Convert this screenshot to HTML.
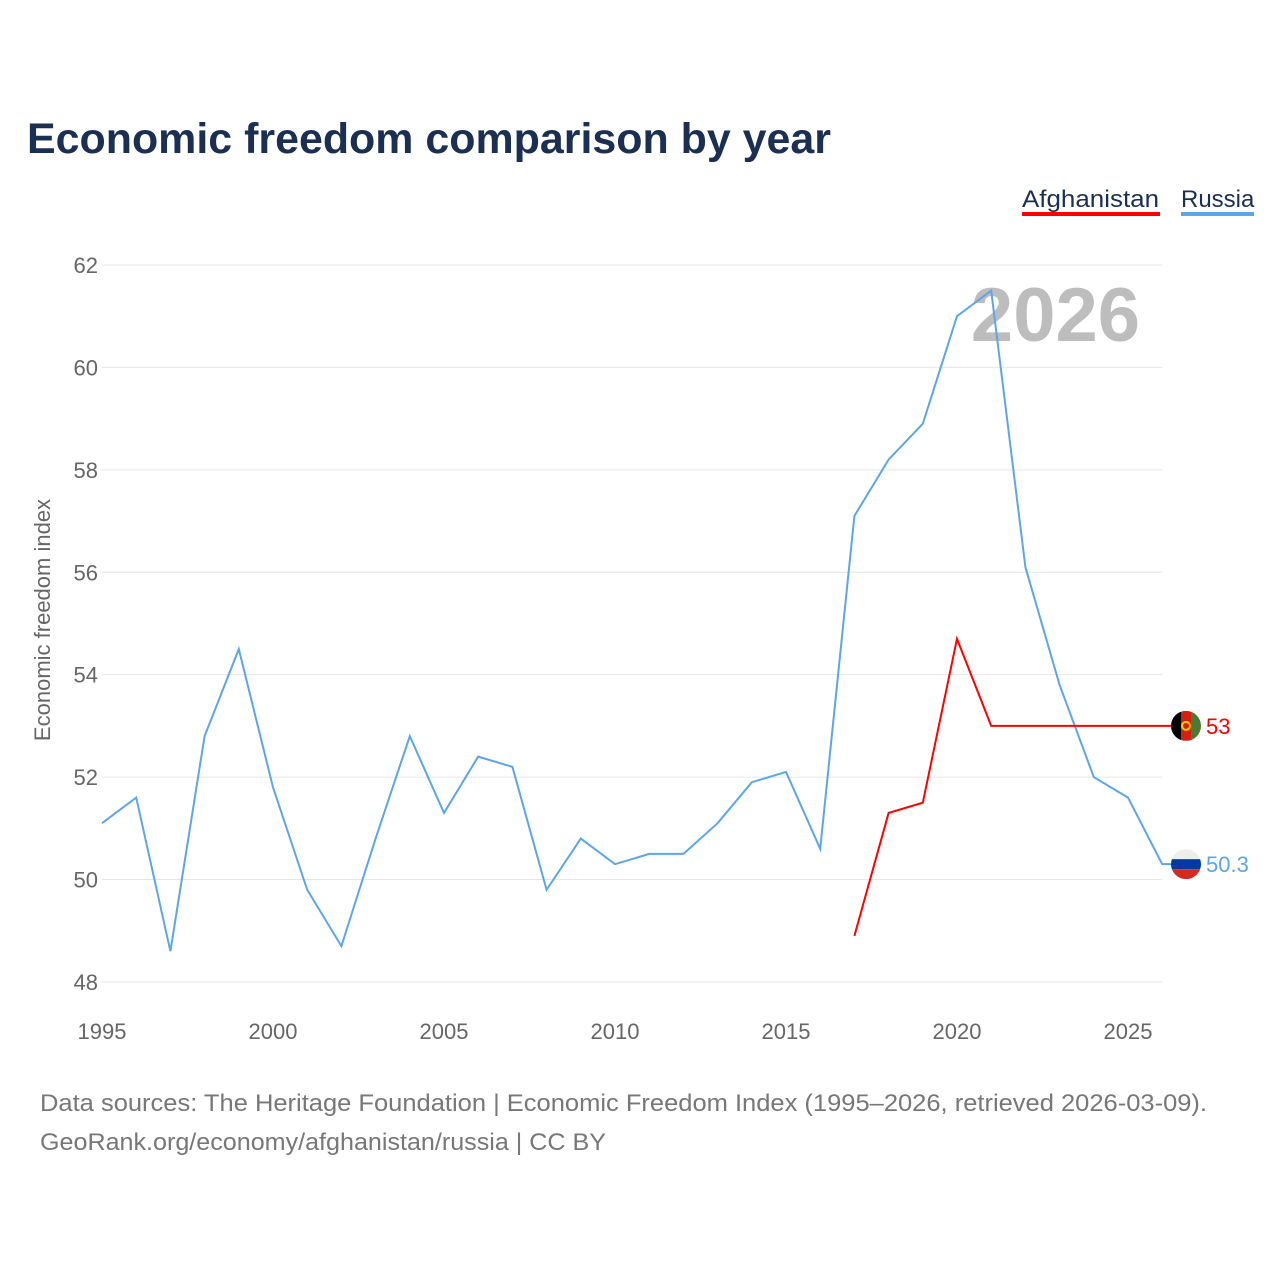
<!DOCTYPE html>
<html><head><meta charset="utf-8">
<style>
body{margin:0;background:#fff;font-family:"Liberation Sans",sans-serif;}
#wrap{position:relative;width:1280px;height:1280px;overflow:hidden;}
svg text{font-family:"Liberation Sans",sans-serif;}
</style></head>
<body>
<div id="wrap">
<svg id="chart" width="1280" height="1280">
<text x="27" y="153" font-size="43" font-weight="bold" fill="#1b2f52" textLength="804" lengthAdjust="spacingAndGlyphs">Economic freedom comparison by year</text>
<g>
<text x="1022" y="207" font-size="24" fill="#1b2f52" textLength="137" lengthAdjust="spacingAndGlyphs">Afghanistan</text>
<rect x="1022" y="212" width="138" height="4" fill="#ff0000"/>
</g>
<g>
<text x="1181" y="207" font-size="24" fill="#1b2f52">Russia</text>
<rect x="1181" y="212" width="73" height="4" fill="#5ea5e8"/>
</g>
<text x="1140" y="341" font-size="76" font-weight="bold" fill="#bdbdbd" text-anchor="end">2026</text>
<text transform="translate(50,620) rotate(-90)" font-size="22" fill="#666" text-anchor="middle">Economic freedom index</text>
<g id="grid"></g><g id="series"></g>
<text x="40" y="1111" font-size="24" fill="#777" textLength="1167" lengthAdjust="spacingAndGlyphs">Data sources: The Heritage Foundation | Economic Freedom Index (1995–2026, retrieved 2026-03-09).</text>
<text x="40" y="1150" font-size="24" fill="#777" textLength="566" lengthAdjust="spacingAndGlyphs">GeoRank.org/economy/afghanistan/russia | CC BY</text>
</svg>
</div>
<script>
const years=[1995,1996,1997,1998,1999,2000,2001,2002,2003,2004,2005,2006,2007,2008,2009,2010,2011,2012,2013,2014,2015,2016,2017,2018,2019,2020,2021,2022,2023,2024,2025,2026];
const russia=[51.1,51.6,48.6,52.8,54.5,51.8,49.8,48.7,50.8,52.8,51.3,52.4,52.2,49.8,50.8,50.3,50.5,50.5,51.1,51.9,52.1,50.6,57.1,58.2,58.9,61.0,61.5,56.1,53.8,52.0,51.6,50.3];
const afgYears=[2017,2018,2019,2020,2021,2022,2023,2024,2025,2026];
const afghanistan=[48.9,51.3,51.5,54.7,53.0,53.0,53.0,53.0,53.0,53.0];
const yTicks=[48,50,52,54,56,58,60,62];
const xTicks=[1995,2000,2005,2010,2015,2020,2025];
const NS='http://www.w3.org/2000/svg';
function x(v){return 102+(v-1995)*34.2;}
function y(v){return 265+(62-v)*51.21;}
function mk(t,a,p){const e=document.createElementNS(NS,t);for(const k in a)e.setAttribute(k,a[k]);p.appendChild(e);return e;}
const grid=document.getElementById('grid');
yTicks.forEach(t=>{
 const l=mk('line',{x1:102,x2:1162,y1:y(t),y2:y(t),stroke:'#e6e6e6','stroke-width':1},grid);
 
 
 const tx=mk('text',{x:98,y:y(t)+8,'font-size':22,fill:'#666','text-anchor':'end'},grid);
 tx.textContent=t;
 
 
});
xTicks.forEach(t=>{
 const tx=mk('text',{x:x(t),y:1039,'font-size':22,fill:'#666','text-anchor':'middle'},grid);
 tx.textContent=t;
 
 
});
const s=document.getElementById('series');
const last=russia[russia.length-1];
let pr=years.map((yr,i)=>x(yr)+','+y(russia[i])).join(' ')+' '+1175+','+y(last);
const rl=mk('polyline',{points:pr,fill:'none',stroke:'#5ea5e8','stroke-width':2},s);


const alast=afghanistan[afghanistan.length-1];
let pa=afgYears.map((yr,i)=>x(yr)+','+y(afghanistan[i])).join(' ')+' '+1175+','+y(alast);
const al=mk('polyline',{points:pa,fill:'none',stroke:'#ff0000','stroke-width':2},s);


const fa=mk('g',{},s);


const cy=y(alast);
mk('clipPath',{id:'ca'},fa);mk('circle',{cx:1186,cy:cy,r:15},fa.lastChild);
mk('rect',{x:1171,y:cy-15,width:10,height:30,fill:'#000','clip-path':'url(#ca)'},fa);
mk('rect',{x:1181,y:cy-15,width:10,height:30,fill:'#d32011','clip-path':'url(#ca)'},fa);
mk('rect',{x:1191,y:cy-15,width:10,height:30,fill:'#4a7a36','clip-path':'url(#ca)'},fa);
mk('circle',{cx:1186,cy:cy,r:4,fill:'none',stroke:'#fc0','stroke-width':2},fa);
const lt=mk('text',{x:1206,y:cy+8,'font-size':22,fill:'#ff0000'},s);
lt.textContent=alast;


const fr=mk('g',{},s);


const ry=y(last);
mk('clipPath',{id:'cr'},fr);mk('circle',{cx:1186,cy:ry,r:15},fr.lastChild);
mk('rect',{x:1171,y:ry-15,width:30,height:10,fill:'#eee','clip-path':'url(#cr)'},fr);
mk('rect',{x:1171,y:ry-5,width:30,height:10,fill:'#0039a6','clip-path':'url(#cr)'},fr);
mk('rect',{x:1171,y:ry+5,width:30,height:10,fill:'#d52b1e','clip-path':'url(#cr)'},fr);
const rt=mk('text',{x:1206,y:ry+8,'font-size':22,fill:'#5ea5e8'},s);
rt.textContent=last;


</script>
</body></html>
